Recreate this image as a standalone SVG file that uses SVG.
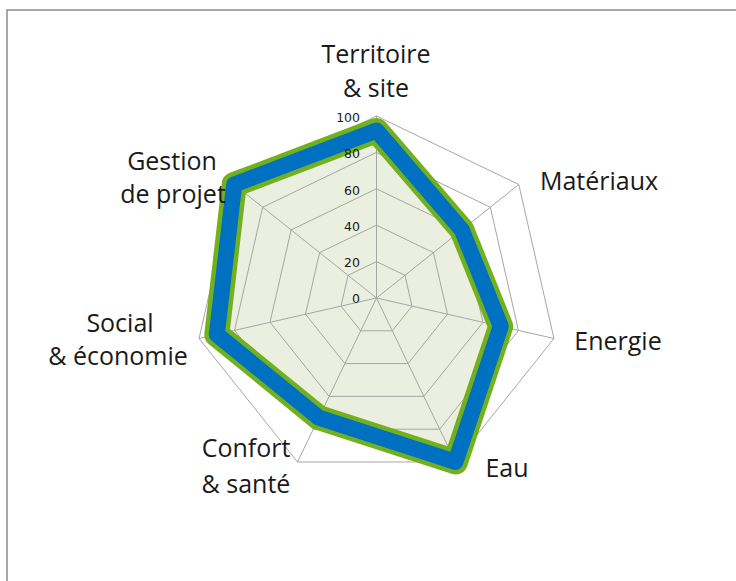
<svg xmlns="http://www.w3.org/2000/svg" width="736" height="581" viewBox="0 0 736 581">
<style>
.lbl{font-family:"Open Sans","Liberation Sans",sans-serif;font-size:25px;fill:#1a1a1a;text-anchor:middle}
.tick{font-family:"DejaVu Sans",sans-serif;font-size:12.5px;fill:#1a1a1a;text-anchor:end}
.grid{fill:none;stroke:#a6a6a6;stroke-width:1}
</style>
<rect x="0" y="0" width="736" height="581" fill="#ffffff"/>
<rect x="7" y="10" width="740" height="580" fill="#ffffff" stroke="#8c8c8c" stroke-width="1.5"/>
<g id="area">
<polygon points="376.5,130.56 461.87,229.92 500.71,326.35 455.47,461.98 318.85,417.7 216.81,334.45 234.21,184.53" fill="#ebefdf"/>
</g>
<g id="grid">
<polygon class="grid" points="376.5,116 518.79,184.53 553.94,338.5 455.47,461.98 297.53,461.98 199.06,338.5 234.21,184.53"/>
<polygon class="grid" points="376.5,152.4 490.33,207.22 518.45,330.4 439.68,429.18 313.32,429.18 234.55,330.4 262.67,207.22"/>
<polygon class="grid" points="376.5,188.8 461.87,229.92 482.96,322.3 423.88,396.39 329.12,396.39 270.04,322.3 291.13,229.92"/>
<polygon class="grid" points="376.5,225.2 433.42,252.61 447.48,314.2 408.09,363.59 344.91,363.59 305.52,314.2 319.58,252.61"/>
<polygon class="grid" points="376.5,261.6 404.96,275.31 411.99,306.1 392.29,330.8 360.71,330.8 341.01,306.1 348.04,275.31"/>
<path class="grid" d="M376.5,298 L376.5,116 M376.5,298 L518.79,184.53 M376.5,298 L553.94,338.5 M376.5,298 L455.47,461.98 M376.5,298 L297.53,461.98 M376.5,298 L199.06,338.5 M376.5,298 L234.21,184.53"/>
</g>
<g id="series">
<polygon points="376.5,130.56 461.87,229.92 500.71,326.35 455.47,461.98 318.85,417.7 216.81,334.45 234.21,184.53" fill="none" stroke="#72b01d" stroke-width="25" stroke-linejoin="round"/>
<polygon points="376.5,130.56 461.87,229.92 500.71,326.35 455.47,461.98 318.85,417.7 216.81,334.45 234.21,184.53" fill="none" stroke="#0070c0" stroke-width="16" stroke-linejoin="round"/>
</g>
<g id="ticks">
<text class="tick" x="360" y="122">100</text>
<text class="tick" x="360" y="158">80</text>
<text class="tick" x="360" y="194.5">60</text>
<text class="tick" x="360" y="230.5">40</text>
<text class="tick" x="360" y="267">20</text>
<text class="tick" x="360" y="303">0</text>
</g>
<g id="label-territoire"><text class="lbl" x="376" y="63">Territoire</text><text class="lbl" x="376" y="97">&amp; site</text></g>
<g id="label-materiaux"><text class="lbl" x="599" y="190">Matériaux</text></g>
<g id="label-energie"><text class="lbl" x="618" y="350">Energie</text></g>
<g id="label-eau"><text class="lbl" x="507" y="477">Eau</text></g>
<g id="label-confort"><text class="lbl" x="246" y="457">Confort</text><text class="lbl" x="246" y="493">&amp; santé</text></g>
<g id="label-social"><text class="lbl" x="120" y="332">Social</text><text class="lbl" x="118" y="365">&amp; économie</text></g>
<g id="label-gestion"><text class="lbl" x="172" y="170">Gestion</text><text class="lbl" x="173" y="203">de projet</text></g>
</svg>
